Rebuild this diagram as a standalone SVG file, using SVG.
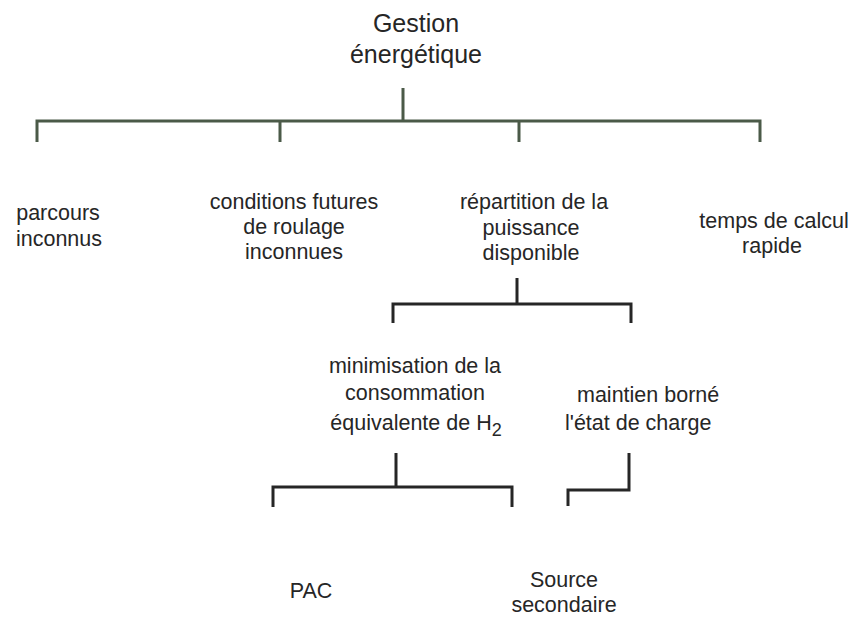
<svg xmlns="http://www.w3.org/2000/svg" width="855" height="617" viewBox="0 0 855 617">
<style>
text{font-family:"Liberation Sans",Arial,sans-serif;font-size:21.5px;fill:#262626;text-anchor:middle}
.title{font-size:25px}
.l{text-anchor:start}
.top{fill:none;stroke:#4b5a48;stroke-width:3}
.low{fill:none;stroke:#262626;stroke-width:3}
</style>
<rect width="855" height="617" fill="#fff"/>
<g id="connectors">
<path class="top" d="M403 88V121M37 142V121H760V142M280 121V142M519 121V142"/>
<path class="low" d="M517 278V304M393 323V304H631V323"/>
<path class="low" d="M396 453V487M273 507V487H512V507"/>
<path class="low" d="M629 453V490H568V506"/>
</g>
<g id="n-gestion"><text class="title" x="416" y="32">Gestion</text><text class="title" x="416" y="63">énergétique</text></g>
<g id="n-parcours"><text x="58" y="220">parcours</text><text x="59" y="246">inconnus</text></g>
<g id="n-conditions"><text x="294" y="209">conditions futures</text><text x="294" y="234">de roulage</text><text x="294" y="259">inconnues</text></g>
<g id="n-repartition"><text x="534" y="209">répartition de la</text><text x="531" y="235">puissance</text><text x="531" y="260">disponible</text></g>
<g id="n-temps"><text x="774" y="228">temps de calcul</text><text x="772" y="253">rapide</text></g>
<g id="n-minimisation"><text x="415" y="373">minimisation de la</text><text x="415" y="400">consommation</text><text x="416" y="430">équivalente de H<tspan dy="6" font-size="18">2</tspan></text></g>
<g id="n-maintien"><text class="l" x="577" y="402">maintien borné</text><text class="l" x="565" y="430">l'état de charge</text></g>
<g id="n-pac"><text x="311" y="598">PAC</text></g>
<g id="n-source"><text x="564" y="587">Source</text><text x="564" y="612">secondaire</text></g>
</svg>
